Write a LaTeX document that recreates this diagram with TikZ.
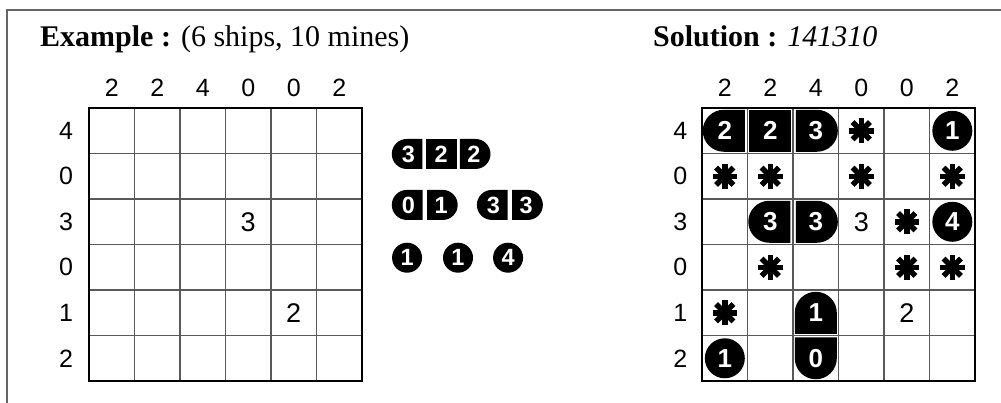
\documentclass[tikz,border=0pt]{standalone}
\usepackage{fontspec}
\setmainfont{Liberation Serif}
\setsansfont{Liberation Sans}
\usetikzlibrary{shapes.misc}

\begin{document}
\begin{tikzpicture}[x=45.5pt,y=-45.5pt]

\tikzstyle{clue} = [font=\sffamily\fontsize{25}{25}\selectfont]
\tikzstyle{given} = [font=\sffamily\fontsize{27}{27}\selectfont]
\tikzstyle{digit} = [text=white, inner sep=0pt, font=\sffamily\bfseries\fontsize{26}{26}\selectfont]
\tikzstyle{part} = [digit, fill=black, minimum width=42pt, minimum height=42pt]
\tikzstyle{bow} = [part, rounded rectangle, rounded rectangle east arc=none]
\tikzstyle{stern} = [part, rounded rectangle, rounded rectangle west arc=none]
\tikzstyle{mid} = [part, rectangle]
\tikzstyle{sub} = [part, circle, minimum size=40pt]
\tikzstyle{fleet} = [minimum width=30.7pt, minimum height=30pt, font=\sffamily\bfseries\fontsize{23.5}{23.5}\selectfont]
\tikzstyle{mine} = [line width=5.5pt]
\tikzstyle{gridline} = [draw=black!65, line width=1.3pt]
\tikzstyle{gridframe} = [draw=black, line width=2pt]
\tikzstyle{heading} = [anchor=base west, inner sep=0pt, font=\fontsize{30}{30}\selectfont]

\useasboundingbox (0,0) rectangle (22,8.857);
\draw[black!60, line width=2pt] (0.154,8.857) -- (0.154,0.22) -- (22,0.22);

\node[heading] (example) at (0.879,1.02) {\textbf{Example :} (6 ships, 10 mines)};
\node[heading] (solution) at (14.35,1.02) {\textbf{Solution :} \textit{141310}};

\begin{scope}[shift={(1.956,2.374)}]
\foreach \i in {1,...,5} {
  \draw[gridline] (\i,0) -- (\i,6);
  \draw[gridline] (0,\i) -- (6,\i);
}
\draw[gridframe] (0,0) rectangle (6,6);
\foreach \v [count=\i] in {2,2,4,0,0,2}
  \node[clue] (ec\i) at (\i-0.5,-0.44) {\v};
\foreach \v [count=\i] in {4,0,3,0,1,2}
  \node[clue] (er\i) at (-0.505,\i-0.5) {\v};
\node[given] (e34) at (3.5,2.5) {3};
\node[given] (e55) at (4.5,4.5) {2};

\node[bow, fleet] (fa1) at (7.02,1.01) {3};
\node[mid, fleet] (fa2) at (7.74,1.01) {2};
\node[stern, fleet] (fa3) at (8.46,1.01) {2};
\node[bow, fleet] (fb1) at (7.02,2.13) {0};
\node[stern, fleet] (fb2) at (7.74,2.13) {1};
\node[bow, fleet] (fc1) at (8.89,2.13) {3};
\node[stern, fleet] (fc2) at (9.61,2.13) {3};
\node[sub, fleet, minimum size=30pt] (fd) at (6.99,3.29) {1};
\node[sub, fleet, minimum size=30pt] (fe) at (8.11,3.29) {1};
\node[sub, fleet, minimum size=30pt] (ff) at (9.21,3.29) {4};
\end{scope}

\begin{scope}[shift={(15.43,2.374)}]
\foreach \i in {1,...,5} {
  \draw[gridline] (\i,0) -- (\i,6);
  \draw[gridline] (0,\i) -- (6,\i);
}
\draw[gridframe] (0,0) rectangle (6,6);
\foreach \v [count=\i] in {2,2,4,0,0,2}
  \node[clue] (sc\i) at (\i-0.5,-0.44) {\v};
\foreach \v [count=\i] in {4,0,3,0,1,2}
  \node[clue] (sr\i) at (-0.48,\i-0.5) {\v};

\node[bow] (s11) at (0.5,0.5) {2};
\node[mid] (s12) at (1.5,0.5) {2};
\node[stern] (s13) at (2.5,0.5) {3};
\node[sub] (s16) at (5.5,0.5) {1};
\node[bow] (s32) at (1.5,2.5) {3};
\node[stern] (s33) at (2.5,2.5) {3};
\node[given] (s34) at (3.5,2.5) {3};
\node[sub] (s36) at (5.5,2.5) {4};
\node[bow, rotate=-90] (s53) at (2.5,4.5) {};
\node[digit] (n53) at (s53) {1};
\node[given] (s55) at (4.5,4.5) {2};
\node[sub] (s61) at (0.5,5.5) {1};
\node[bow, rotate=90] (s63) at (2.5,5.5) {};
\node[digit] (n63) at (s63) {0};

\foreach \c/\r in {4/1,1/2,2/2,4/2,6/2,5/3,2/4,5/4,6/4,1/5}
  \foreach \a in {0,45,90,135}
    \draw[mine, shift={(\c-0.5,\r-0.5)}] (\a:0.27) -- (\a+180:0.27);
\end{scope}

\end{tikzpicture}
\end{document}
